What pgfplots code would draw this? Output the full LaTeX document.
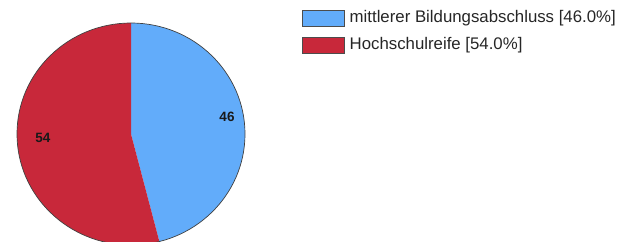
\documentclass[border=0pt]{standalone}
\usepackage{pgfplots}
\pgfplotsset{compat=1.18}
\usepackage{pgfplotstable}
\usepackage{fontspec}
\setmainfont{Liberation Sans}
\definecolor{pieblue}{RGB}{98,172,250}
\definecolor{piered}{RGB}{200,40,58}
\pgfplotstableread{
value
46
54
}\piedata
\pgfplotstablegetelem{0}{value}\of\piedata \let\va\pgfplotsretval
\pgfplotstablegetelem{1}{value}\of\piedata \let\vb\pgfplotsretval
\begin{document}
\begin{tikzpicture}
\clip (0,0) rectangle (626pt,241pt);
\begin{axis}[
  at={(0,0)}, anchor=south west,
  scale only axis, x=1pt, y=1pt,
  xmin=0, xmax=626, ymin=0, ymax=241,
  hide axis, clip=false,
  legend style={at={(axis cs:302,231)}, anchor=north west, draw=none, fill=none,
    inner sep=0pt, font=\fontsize{16.8}{19}\selectfont, text=black!85,
    row sep=10.5pt,
    nodes={inner sep=0pt, text height=12pt, text depth=4pt},
    /tikz/every odd column/.append style={column sep=5pt}},
  legend cell align=left,
]
\addlegendimage{legend image code/.code={\draw[fill=pieblue, draw=black!70, line width=0.5pt] (0pt,-8pt) rectangle (42pt,8pt);}}
\addlegendentry{mittlerer Bildungsabschluss [46.0\%]}
\addlegendimage{legend image code/.code={\draw[fill=piered, draw=black!70, line width=0.5pt] (0pt,-8pt) rectangle (42pt,8pt);}}
\addlegendentry{Hochschulreife [54.0\%]}
\fill[pieblue] (axis cs:131,107) -- ++(0pt,111pt)
  arc[start angle=90, delta angle={-3.6*\va}, x radius=114pt, y radius=111pt] -- cycle;
\fill[piered] (axis cs:131,107) -- ++({90-3.6*\va}:114pt and 111pt)
  arc[start angle={90-3.6*\va}, delta angle={-3.6*\vb}, x radius=114pt, y radius=111pt] -- cycle;
\draw[black!75, line width=0.7pt] (axis cs:131,107) ellipse [x radius=114pt, y radius=111pt];
\node[font=\bfseries\fontsize{13.5}{15}\selectfont, text=black!90] at (axis cs:227,124) {46};
\node[font=\bfseries\fontsize{13.5}{15}\selectfont, text=black!90] at (axis cs:43,103) {54};
\end{axis}
\end{tikzpicture}
\end{document}
